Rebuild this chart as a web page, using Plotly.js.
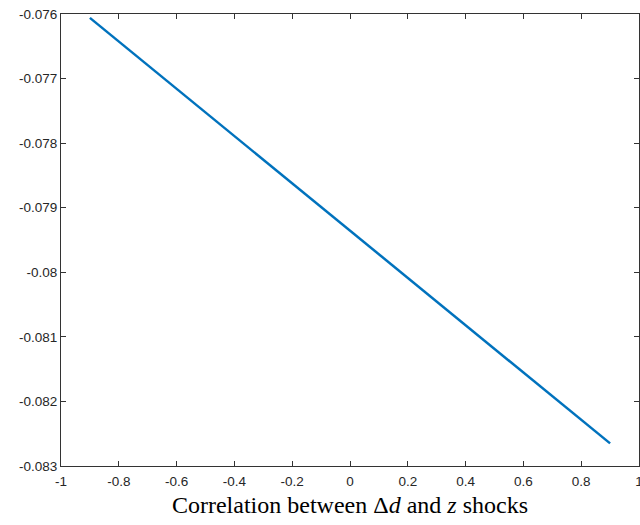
<!DOCTYPE html>
<html>
<head>
<meta charset="utf-8">
<script src="https://cdn.plot.ly/plotly-3.0.1.min.js"></script>
<style>html,body{margin:0;padding:0;background:#fff;}#chart{width:640px;height:525px;}</style>
</head>
<body>
<div id="chart"></div>
<script>
const correlation = [-0.9, -0.6, -0.3, 0, 0.3, 0.6, 0.9];
const values = [-0.07606, -0.07716, -0.07826, -0.07935, -0.08045, -0.08155, -0.08265];
const xTickVals = [-1, -0.8, -0.6, -0.4, -0.2, 0, 0.2, 0.4, 0.6, 0.8, 1];
const xTickText = ["-1", "-0.8", "-0.6", "-0.4", "-0.2", "0", "0.2", "0.4", "0.6", "0.8", "1"];
const yTickVals = [-0.083, -0.082, -0.081, -0.080, -0.079, -0.078, -0.077, -0.076];
const yTickText = ["-0.083", "-0.082", "-0.081", "-0.08", "-0.079", "-0.078", "-0.077", "-0.076"];

const axisCommon = {
  showline: true, linecolor: '#333', linewidth: 1, mirror: 'ticks',
  ticks: 'inside', ticklen: 5, tickcolor: '#333', tickwidth: 1,
  showgrid: false, zeroline: false, ticklabeloverflow: 'allow',
  tickfont: {family: 'Liberation Sans, Arial, sans-serif', size: 13.5, color: '#262626'}
};

Plotly.newPlot('chart', [{
  x: correlation, y: values, type: 'scatter', mode: 'lines',
  line: {color: '#0072BD', width: 2.5}
}], {
  width: 640, height: 525,
  margin: {l: 61, r: 1, t: 14, b: 59},
  paper_bgcolor: '#fff', plot_bgcolor: '#fff',
  showlegend: false,
  xaxis: Object.assign({}, axisCommon, {
    range: [-1, 1], tickvals: xTickVals, ticktext: xTickText, ticklabelstandoff: 3,
    title: {text: 'Correlation between Δ<i>d</i> and <i>z</i> shocks',
      font: {family: 'Liberation Serif, DejaVu Serif, serif', size: 24, color: '#000'}, standoff: 7}
  }),
  yaxis: Object.assign({}, axisCommon, {
    range: [-0.083, -0.076], tickvals: yTickVals, ticktext: yTickText
  })
}, {displayModeBar: false});
</script>
</body>
</html>
